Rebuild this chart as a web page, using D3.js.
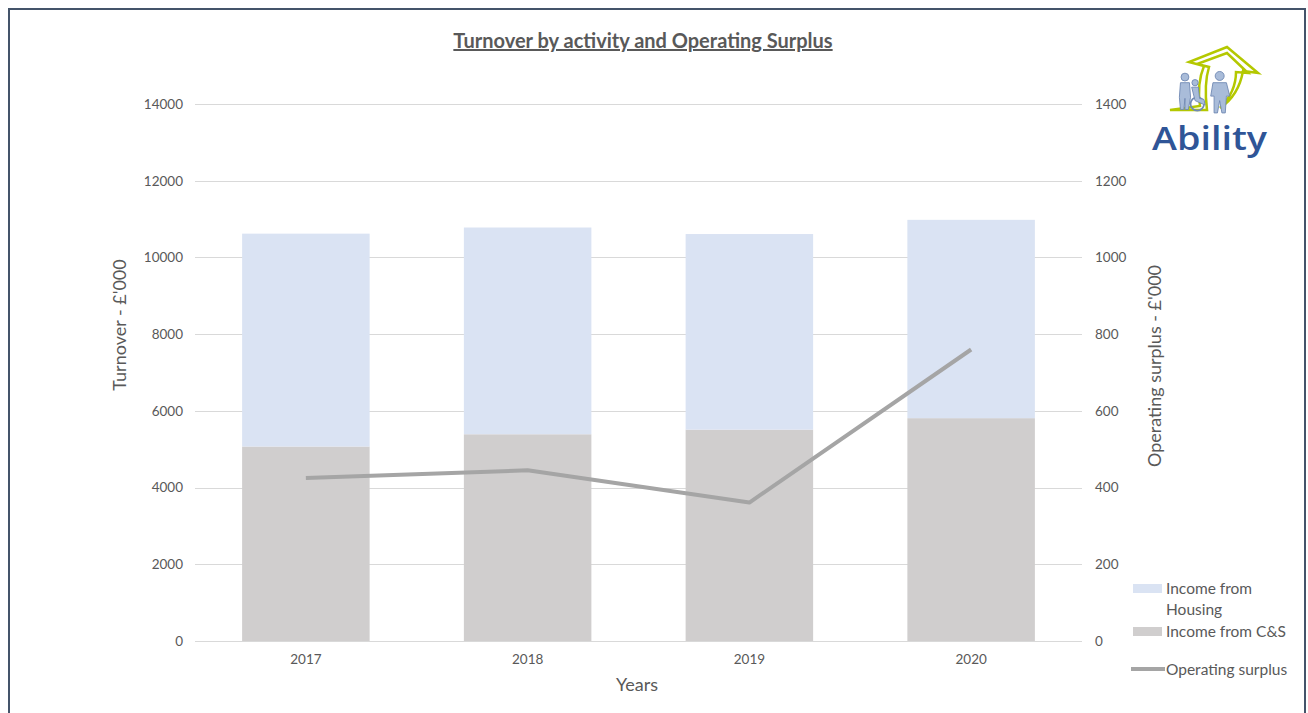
<!DOCTYPE html>
<html><head><meta charset="utf-8">
<script src="https://cdn.jsdelivr.net/npm/d3@7"></script>
<style>body{margin:0;background:#fff;}svg{display:block;font-family:Lato,"Open Sans",sans-serif;}</style>
</head><body>
<svg id="c" width="1308" height="713"></svg>
<script>
const years = ["2017","2018","2019","2020"];
const incomeCS = [5070, 5390, 5510, 5810];
const incomeHousing = [5550, 5390, 5100, 5170];
const operatingSurplus = [425, 445, 361, 760];
const leftTicks = [0,2000,4000,6000,8000,10000,12000,14000];
const rightTicks = [0,200,400,600,800,1000,1200,1400];

const svg = d3.select("#c");
const txt = "#595959";
const plot = {left:195, right:1082, top:104, bottom:641};

// border
svg.append("path").attr("d","M9,713 L9,9 L1305,9 L1305,713").attr("fill","none").attr("stroke","#44546a").attr("stroke-width",2);

const x = d3.scaleBand().domain(years).range([plot.left, plot.right]).paddingInner(0.425).paddingOuter(0.2125);
const yL = d3.scaleLinear().domain([0,14000]).range([plot.bottom, plot.top]);
const yR = d3.scaleLinear().domain([0,1400]).range([plot.bottom, plot.top]);

// gridlines
svg.append("g").selectAll("line").data(leftTicks).join("line")
  .attr("x1",plot.left).attr("x2",plot.right)
  .attr("y1",d=>Math.round(yL(d))+0.5).attr("y2",d=>Math.round(yL(d))+0.5)
  .attr("stroke","#d9d9d9").attr("stroke-width",1);

// left axis
const gL = svg.append("g").attr("transform",`translate(${plot.left-12},0)`)
  .call(d3.axisLeft(yL).tickValues(leftTicks).tickSize(0).tickPadding(0).tickFormat(d3.format("d")));
gL.select(".domain").remove();
gL.selectAll("text").attr("fill",txt).style("font-size","13.5px").style("font-family","Lato,sans-serif");

// right axis
const gR = svg.append("g").attr("transform",`translate(${plot.right+13},0)`)
  .call(d3.axisRight(yR).tickValues(rightTicks).tickSize(0).tickPadding(0).tickFormat(d3.format("d")));
gR.select(".domain").remove();
gR.selectAll("text").attr("fill",txt).style("font-size","13.5px").style("font-family","Lato,sans-serif");

// bottom axis
const gB = svg.append("g").attr("transform",`translate(0,${plot.bottom+13})`)
  .call(d3.axisBottom(x).tickSize(0).tickPadding(0));
gB.select(".domain").remove();
gB.selectAll("text").attr("fill",txt).style("font-size","13.5px").style("font-family","Lato,sans-serif");

// stacked bars
const stackData = years.map((y,i)=>({year:y, cs:incomeCS[i], housing:incomeHousing[i]}));
const stack = d3.stack().keys(["cs","housing"])(stackData);
const colors = {cs:"#d0cece", housing:"#dae3f3"};
svg.append("g").selectAll("g").data(stack).join("g").attr("fill",d=>colors[d.key])
  .selectAll("rect").data(d=>d).join("rect")
  .attr("x",d=>x(d.data.year)).attr("width",x.bandwidth())
  .attr("y",d=>yL(d[1])).attr("height",d=>yL(d[0])-yL(d[1]));

// line
const line = d3.line().x((d,i)=>x(years[i])+x.bandwidth()/2).y(d=>yR(d));
svg.append("path").datum(operatingSurplus).attr("d",line).attr("fill","none")
  .attr("stroke","#a5a5a5").attr("stroke-width",4).attr("stroke-linejoin","round");

// title
svg.append("text").attr("x",643).attr("y",48).attr("text-anchor","middle")
  .attr("fill",txt).style("font-size","20px").style("font-weight","bold")
  .style("text-decoration","underline").text("Turnover by activity and Operating Surplus");

// axis titles
svg.append("text").attr("transform","translate(126,325) rotate(-90)").attr("text-anchor","middle")
  .attr("fill",txt).style("font-size","18px").text("Turnover - £'000");
svg.append("text").attr("transform","translate(1161,366) rotate(-90)").attr("text-anchor","middle")
  .attr("fill",txt).style("font-size","18px").text("Operating surplus - £'000");
svg.append("text").attr("x",637).attr("y",691).attr("text-anchor","middle")
  .attr("fill",txt).style("font-size","18px").text("Years");

// legend
const lg = svg.append("g").attr("fill",txt).style("font-size","15.5px");
lg.append("rect").attr("x",1133).attr("y",584).attr("width",29).attr("height",9).attr("fill",colors.housing);
lg.append("text").attr("x",1166).attr("y",594).text("Income from");
lg.append("text").attr("x",1166).attr("y",615).text("Housing");
lg.append("rect").attr("x",1133).attr("y",627).attr("width",29).attr("height",9).attr("fill",colors.cs);
lg.append("text").attr("x",1166).attr("y",637).text("Income from C&S");
lg.append("line").attr("x1",1131).attr("x2",1165).attr("y1",669).attr("y2",669).attr("stroke","#a5a5a5").attr("stroke-width",4);
lg.append("text").attr("x",1166).attr("y",675).text("Operating surplus");

// logo
const logo = svg.append("g");
logo.append("path")
  .attr("d","M1170,110 L1200,106 C1198,92 1199,78 1204,66 L1189,62 L1227,47 L1258,73 L1243,71 C1240,88 1232,100 1220,108 C1232,96 1236,84 1236,72 L1248,73 L1227,53 L1197,64 L1209,67 C1205,80 1205,94 1207,110 Z")
  .attr("fill","none").attr("stroke","#b4c800").attr("stroke-width",2.5).attr("stroke-linejoin","miter");
const fig = "#a9bcd9", figS = "#7089b3";
const people = logo.append("g").attr("transform","translate(1204,95) scale(1.12) translate(-1204,-95)");
people.append("circle").attr("cx",1187).attr("cy",79).attr("r",3.5).attr("fill",fig).attr("stroke",figS).attr("stroke-width",0.8);
people.append("path").attr("d","M1183,84 L1191,84 L1192,97 L1190,108 L1187,108 L1187,98 L1186,108 L1183,108 L1182,97 Z").attr("fill",fig).attr("stroke",figS).attr("stroke-width",0.8);
people.append("circle").attr("cx",1198).attr("cy",103).attr("r",6).attr("fill","none").attr("stroke",figS).attr("stroke-width",1.5);
people.append("circle").attr("cx",1196).attr("cy",84).attr("r",2.8).attr("fill",fig).attr("stroke",figS).attr("stroke-width",0.8);
people.append("path").attr("d","M1193,88 L1199,88 L1200,98 L1204,99 L1205,104 L1196,100 Z").attr("fill",fig).attr("stroke",figS).attr("stroke-width",0.8);
people.append("circle").attr("cx",1218).attr("cy",78).attr("r",4).attr("fill",fig).attr("stroke",figS).attr("stroke-width",0.8);
people.append("path").attr("d","M1212,84 L1224,84 L1227,96 L1224,96 L1223,111 L1220,111 L1218,100 L1216,111 L1213,111 L1213,96 L1210,96 Z").attr("fill",fig).attr("stroke",figS).attr("stroke-width",0.8);
logo.append("text").attr("x",1152).attr("y",150).attr("textLength",115).attr("lengthAdjust","spacingAndGlyphs")
  .attr("fill","#2f5597").style("font-size","33px").style("font-weight","600").style("font-family","'Open Sans',Lato,sans-serif").text("Ability");
</script>
</body></html>
